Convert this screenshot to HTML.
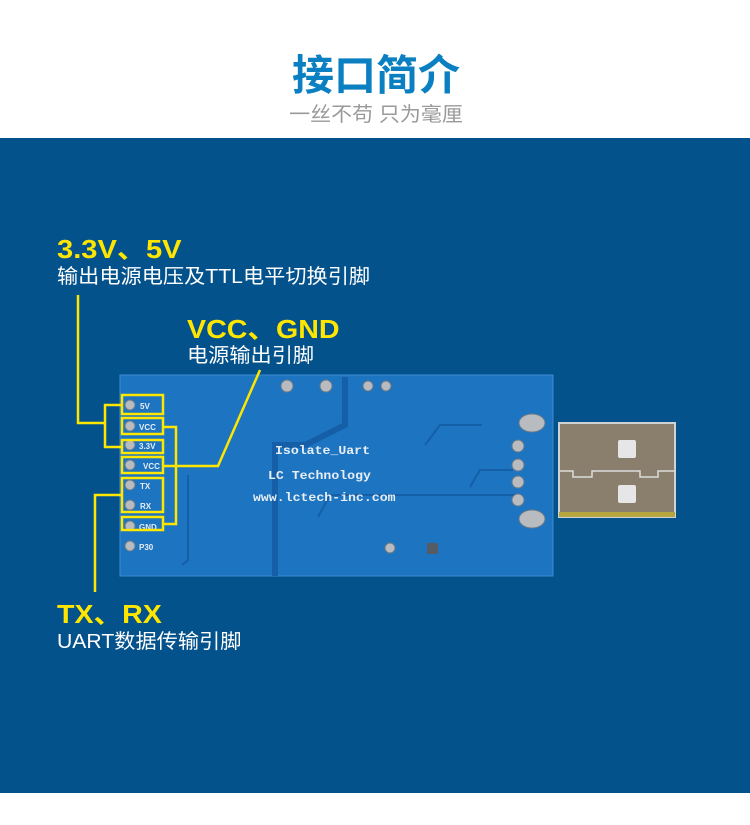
<!DOCTYPE html>
<html><head><meta charset="utf-8"><style>
html,body{margin:0;padding:0;width:750px;height:825px;overflow:hidden;background:#fff}
</style></head><body>
<svg width="750" height="825" viewBox="0 0 750 825" xmlns="http://www.w3.org/2000/svg">
<rect x="0" y="0" width="750" height="825" fill="#fff"/>
<text x="376" y="90" text-anchor="middle" font-family="Liberation Sans, Noto Sans CJK SC, sans-serif" font-weight="bold" font-size="42" fill="#0a7fc2">接口简介</text>
<text transform="translate(376,121) scale(1.05,1)" text-anchor="middle" font-family="Liberation Sans, Noto Sans CJK SC, sans-serif" font-size="20" fill="#9a9a9a">一丝不苟 只为毫厘</text>
<rect x="0" y="138" width="750" height="655" fill="#03528c"/>

<!-- PCB -->
<rect x="120" y="375" width="433" height="201" fill="#1d74c0" stroke="#3c8ad0" stroke-width="1"/>
<path d="M345 377 V425 L305 445 H275 V576" fill="none" stroke="#155fa8" stroke-width="6"/>
<path d="M425 445 L440 425 H482" fill="none" stroke="#155fa8" stroke-width="2"/>
<path d="M470 487 L480 470 H513" fill="none" stroke="#155fa8" stroke-width="2"/>
<path d="M318 517 L330 495 H517" fill="none" stroke="#155fa8" stroke-width="2"/>
<path d="M188 475 V560 L182 565" fill="none" stroke="#155fa8" stroke-width="2"/>
<g fill="#b8bcc0" stroke="#6a7a88" stroke-width="1">
<circle cx="287" cy="386" r="6"/><circle cx="326" cy="386" r="6"/><circle cx="368" cy="386" r="5"/><circle cx="386" cy="386" r="5"/>
<circle cx="518" cy="446" r="6"/><circle cx="518" cy="465" r="6"/><circle cx="518" cy="482" r="6"/><circle cx="518" cy="500" r="6"/>
<ellipse cx="532" cy="423" rx="13" ry="9"/><ellipse cx="532" cy="519" rx="13" ry="9"/>
<circle cx="390" cy="548" r="5"/>
<circle cx="130" cy="405" r="5"/><circle cx="130" cy="426" r="5"/><circle cx="130" cy="445" r="5"/><circle cx="130" cy="465" r="5"/><circle cx="130" cy="485" r="5"/><circle cx="130" cy="505" r="5"/><circle cx="130" cy="526" r="5"/><circle cx="130" cy="546" r="5"/>
</g>
<rect x="427" y="543" width="11" height="11" fill="#555c66"/>
<g font-family="Liberation Sans, sans-serif" font-weight="bold" font-size="8" fill="#e8eef4">
<text x="140" y="409">5V</text><text x="139" y="430">VCC</text><text x="139" y="449">3.3V</text><text x="143" y="469">VCC</text><text x="140" y="489">TX</text><text x="140" y="509">RX</text><text x="139" y="530">GND</text><text x="139" y="550">P30</text>
</g>
<g font-family="Liberation Mono, monospace" font-weight="bold" fill="#e8eef4">
<text transform="translate(275,454) scale(1.1,1)" font-size="12">Isolate_Uart</text>
<text transform="translate(268,479) scale(1.1,1)" font-size="12">LC Technology</text>
<text transform="translate(253,501) scale(1.1,1)" font-size="12">www.lctech-inc.com</text>
</g>

<!-- USB -->
<rect x="559" y="423" width="116" height="94" fill="#8a7e6c" stroke="#cfd3d6" stroke-width="2"/>
<rect x="559" y="512" width="116" height="5" fill="#b5a642"/>
<path d="M560 471 H573 V477 H592 V471 H640 V477 H658 V471 H675" fill="none" stroke="#dcdcdc" stroke-width="1.5"/>
<rect x="618" y="440" width="18" height="18" rx="2" fill="#e6e6e6"/>
<rect x="618" y="485" width="18" height="18" rx="2" fill="#e6e6e6"/>

<!-- yellow annotation -->
<g fill="none" stroke="#ffe600" stroke-width="2.5">
<rect x="122" y="395" width="41" height="19"/>
<rect x="122" y="418" width="41" height="16"/>
<rect x="122" y="440" width="41" height="13"/>
<rect x="122" y="457" width="41" height="16"/>
<rect x="122" y="478" width="41" height="34"/>
<rect x="122" y="517" width="41" height="13"/>
<path d="M122 405 H105 V447 H122"/>
<path d="M78 295 V423 H105"/>
<path d="M163 427 H176 V524 H163"/>
<path d="M163 466 H218 L260 370"/>
<path d="M122 495 H95 V592"/>
</g>

<g font-family="Liberation Sans, Noto Sans CJK SC, sans-serif">
<text transform="translate(57,258) scale(1.12,1)" font-weight="bold" font-size="26" fill="#ffe600">3.3V、5V</text>
<text transform="translate(57,283) scale(1.06,1)" font-size="20" fill="#fff">输出电源电压及TTL电平切换引脚</text>
<text transform="translate(187,338) scale(1.1,1)" font-weight="bold" font-size="26" fill="#ffe600">VCC、GND</text>
<text transform="translate(187,362) scale(1.06,1)" font-size="20" fill="#fff">电源输出引脚</text>
<text transform="translate(57,623) scale(1.1,1)" font-weight="bold" font-size="26" fill="#ffe600">TX、RX</text>
<text transform="translate(57,648) scale(1.06,1)" font-size="20" fill="#fff">UART数据传输引脚</text>
</g>
</svg>
</body></html>
